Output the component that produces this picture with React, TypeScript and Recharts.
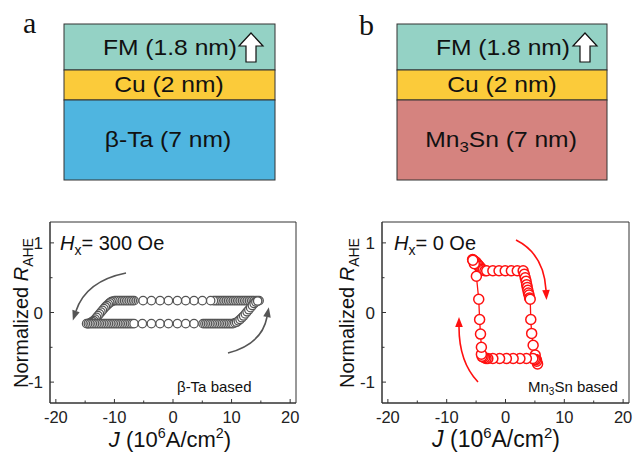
import { ScatterChart, Scatter, XAxis, YAxis, ReferenceArea } from 'recharts'

const FONT = '"Liberation Sans", Arial, sans-serif'
const SERIF = '"Liberation Serif", "Times New Roman", serif'
const AXIS = '#333'

// axis ticks shared by both panels
const xTicks = [-20, -15, -10, -5, 0, 5, 10, 15, 20]
const yTicks = [-1, -0.5, 0, 0.5, 1]

// beta-Ta panel, J (10^6 A/cm^2) vs normalized R_AHE
// sweep from +J max down to -J max (upper branch, then switching)
const taSweepDown: [number, number][] = [
    [14.7, 0.17], [14.4, 0.17], [14.1, 0.17], [13.8, 0.17], [13.5, 0.17], [13.2, 0.17],
    [12.9, 0.17], [12.6, 0.17], [12.3, 0.17], [12.0, 0.17], [11.7, 0.17], [11.4, 0.17],
    [11.1, 0.17], [10.8, 0.17], [10.5, 0.17], [10.2, 0.17], [9.9, 0.17], [9.6, 0.17],
    [9.3, 0.17], [9.0, 0.17], [8.7, 0.17], [8.4, 0.17], [8.1, 0.17], [7.8, 0.17],
    [7.5, 0.17], [7.2, 0.17], [6.9, 0.17], [6.43, 0.17], [5.01, 0.17], [3.59, 0.17],
    [2.17, 0.17], [0.75, 0.17], [-0.78, 0.17], [-2.21, 0.17], [-3.69, 0.17], [-5.11, 0.17],
    [-6.65, 0.17], [-6.95, 0.17], [-7.25, 0.17], [-7.55, 0.17], [-7.85, 0.17], [-8.15, 0.17],
    [-8.45, 0.17], [-8.75, 0.17], [-9.05, 0.17], [-9.35, 0.17], [-9.65, 0.17], [-9.95, 0.17],
    [-10.25, 0.165], [-10.55, 0.155], [-10.8, 0.14], [-11.05, 0.12], [-11.3, 0.1], [-11.55, 0.08],
    [-11.8, 0.055], [-12.05, 0.03], [-12.3, 0.005], [-12.55, -0.02], [-12.8, -0.045], [-13.05, -0.07],
    [-13.3, -0.095], [-13.55, -0.115], [-13.8, -0.13], [-14.05, -0.145], [-14.3, -0.155], [-14.55, -0.16],
    [-14.75, -0.16],
]
// sweep back from -J max to +J max (lower branch, then switching)
const taSweepUp: [number, number][] = [
    [-14.45, -0.16], [-14.15, -0.16], [-13.85, -0.16], [-13.55, -0.16], [-13.25, -0.16], [-12.95, -0.16],
    [-12.65, -0.16], [-12.35, -0.16], [-12.05, -0.16], [-11.75, -0.16], [-11.45, -0.16], [-11.15, -0.16],
    [-10.85, -0.16], [-10.55, -0.16], [-10.25, -0.16], [-9.95, -0.16], [-9.65, -0.16], [-9.35, -0.16],
    [-9.05, -0.16], [-8.75, -0.16], [-8.45, -0.16], [-8.15, -0.16], [-7.85, -0.16], [-7.55, -0.16],
    [-7.25, -0.16], [-6.95, -0.16], [-6.65, -0.16], [-5.23, -0.16], [-3.69, -0.16], [-2.21, -0.16],
    [-0.78, -0.16], [0.75, -0.16], [2.17, -0.16], [3.59, -0.16], [5.13, -0.16], [5.45, -0.16],
    [5.75, -0.16], [6.05, -0.16], [6.35, -0.16], [6.65, -0.16], [6.95, -0.16], [7.25, -0.16],
    [7.55, -0.16], [7.85, -0.16], [8.15, -0.16], [8.45, -0.16], [8.75, -0.16], [9.05, -0.16],
    [9.35, -0.16], [9.65, -0.16], [9.95, -0.16], [10.25, -0.16], [10.55, -0.15], [10.85, -0.14],
    [11.15, -0.12], [11.45, -0.1], [11.75, -0.075], [12.05, -0.05], [12.35, -0.02], [12.65, 0.01],
    [12.95, 0.04], [13.25, 0.07], [13.55, 0.1], [13.85, 0.13], [14.15, 0.15], [14.45, 0.165],
]

// Mn3Sn panel, one loop in measurement order
const mnSweepUp: [number, number][] = [
    [-5.6, 0.76], [-5.45, 0.75], [-5.3, 0.74], [-5.15, 0.73], [-5.0, 0.72], [-4.85, 0.7],
    [-4.7, 0.69], [-4.55, 0.67], [-4.4, 0.66], [-4.2, 0.64], [-4.0, 0.62], [-3.8, 0.61],
    [-3.5, 0.6], [-3.2, 0.6], [-2.15, 0.6], [-1.1, 0.6], [-0.05, 0.6], [1.0, 0.6],
    [2.0, 0.6], [3.0, 0.6], [3.2, 0.55], [3.35, 0.5], [3.5, 0.45], [3.6, 0.4],
    [3.7, 0.36], [3.8, 0.32], [3.9, 0.28], [4.0, 0.25], [4.1, 0.21], [4.2, 0.19],
    [4.3, -0.1], [4.45, -0.3], [4.7, -0.47], [5.05, -0.61], [5.25, -0.68], [5.45, -0.74],
]
const mnSweepDown: [number, number][] = [
    [5.3, -0.7], [5.1, -0.68], [4.9, -0.67], [4.65, -0.66], [3.55, -0.66], [2.45, -0.66],
    [1.3, -0.66], [0.15, -0.66], [-1.0, -0.66], [-2.15, -0.66], [-3.0, -0.66], [-3.3, -0.66],
    [-3.55, -0.65], [-3.8, -0.64], [-4.0, -0.63], [-4.1, -0.6], [-4.1, -0.5], [-4.25, -0.31],
    [-4.4, -0.1], [-4.55, 0.19], [-4.95, 0.52], [-5.3, 0.7], [-5.55, 0.75],
]

const toPoints = (rows: [number, number][]) => rows.map(([x, y]) => ({ x, y }))
const taData = toPoints([...taSweepDown, ...taSweepUp])
const mnData = toPoints([...mnSweepUp, ...mnSweepDown])

function XTick({ x, y, payload }: any) {
    const major = payload.value % 10 === 0
    return (
        <g>
            <line x1={x} x2={x} y1={y} y2={y - (major ? 4 : 2.5)} stroke={AXIS} />
            {major && (
                <text x={x} y={y + 20} textAnchor="middle" fontSize={16.5} fill="#222" fontFamily={FONT}>
                    {payload.value}
                </text>
            )}
        </g>
    )
}

function YTick({ x, y, payload }: any) {
    const major = payload.value % 1 === 0
    return (
        <g>
            <line x1={x} x2={x + (major ? 4 : 2.5)} y1={y} y2={y} stroke={AXIS} />
            {major && (
                <text x={x - 7} y={y + 6} textAnchor="end" fontSize={17} fill="#222" fontFamily={FONT}>
                    {payload.value}
                </text>
            )}
        </g>
    )
}

function LoopChart({ data, color, line, width, marginRight, r, sw }: any) {
    const dot = (p: any) => (
        <circle cx={p.cx} cy={p.cy} r={r} fill="#fff" stroke={color} strokeWidth={sw} />
    )
    return (
        <ScatterChart width={width} height={237} margin={{ top: 7, right: marginRight, bottom: 19, left: 20 }}>
            <XAxis type="number" dataKey="x" domain={[-21, 21]} ticks={xTicks} allowDataOverflow
                height={30} stroke={AXIS} tickSize={0} tickMargin={0} tickLine={false} tick={<XTick />} />
            <YAxis type="number" dataKey="y" domain={[-1.3, 1.3]} ticks={yTicks} allowDataOverflow
                width={30} stroke={AXIS} tickSize={0} tickMargin={0} tickLine={false} tick={<YTick />} />
            <ReferenceArea x1={-21} x2={21} y1={-1.3} y2={1.3} fill="none" stroke={AXIS} strokeWidth={1} />
            <Scatter data={data} shape={dot} isAnimationActive={false}
                line={line ? { stroke: color, strokeWidth: 1.3 } : false} lineType="joint" />
        </ScatterChart>
    )
}

function arrow(path: [number, number, number, number, number, number], color: string) {
    const [x0, y0, cx, cy, x1, y1] = path
    const dx = x1 - cx
    const dy = y1 - cy
    const len = Math.hypot(dx, dy)
    const ux = dx / len
    const uy = dy / len
    const tipX = x1 + ux * 10
    const tipY = y1 + uy * 10
    const pts = `${tipX},${tipY} ${x1 - uy * 3.8},${y1 + ux * 3.8} ${x1 + uy * 3.8},${y1 - ux * 3.8}`
    return (
        <g>
            <path d={`M${x0},${y0} Q${cx},${cy} ${x1},${y1}`} fill="none" stroke={color} strokeWidth={1.6} />
            <polygon points={pts} fill={color} />
        </g>
    )
}

function upArrow(cx: number) {
    return (
        <path d={`M${cx},33 L${cx + 12},46 L${cx + 5},46 L${cx + 5},62 L${cx - 5},62 L${cx - 5},46 L${cx - 12},46 Z`}
            fill="#fff" stroke="#111" strokeWidth={1.2} />
    )
}

function Stack({ x, w, bottomFill, cx, bottomText, arrowX }: any) {
    return (
        <g fontFamily={FONT} fill="#111">
            <rect x={x} y={24} width={w} height={46} fill="#94D2C5" stroke="#333" />
            <rect x={x} y={70} width={w} height={30} fill="#FBCB3A" stroke="#333" />
            <rect x={x} y={100} width={w} height={80} fill={bottomFill} stroke="#333" />
            <text transform={`translate(${cx},55) scale(1.12,1)`} textAnchor="middle" fontSize={22}>FM (1.8 nm)</text>
            <text transform={`translate(${cx - 1},92) scale(1.12,1)`} textAnchor="middle" fontSize={22}>Cu (2 nm)</text>
            <text transform={`translate(${cx - 2},147) scale(1.12,1)`} textAnchor="middle" fontSize={22}>{bottomText}</text>
            {upArrow(arrowX)}
        </g>
    )
}

function AxisTitles({ dx, xSize }: any) {
    return (
        <g fontFamily={FONT} fill="#111">
            <text transform={`translate(${28 + dx},313) rotate(-90)`} textAnchor="middle" fontSize={20}>
                Normalized <tspan fontStyle="italic">R</tspan>
                <tspan fontSize={14} dy={5}>AHE</tspan>
            </text>
            <text x={170 + dx} y={447} textAnchor="middle" fontSize={xSize}>
                <tspan fontStyle="italic">J</tspan> (10<tspan fontSize={xSize * 0.65} dy={-9}>6</tspan>
                <tspan dy={9}>A/cm</tspan><tspan fontSize={xSize * 0.65} dy={-9}>2</tspan><tspan dy={9}>)</tspan>
            </text>
        </g>
    )
}

export default function App() {
    return (
        <div style={{ position: 'absolute', left: 0, top: 0, width: 634, height: 452, background: '#fff', overflow: 'hidden' }}>
            <div style={{ position: 'absolute', left: 0, top: 215 }}>
                <LoopChart data={taData} color="#555" line={false} width={310} marginRight={14} r={4.2} sw={1.3} />
            </div>
            <div style={{ position: 'absolute', left: 332, top: 215 }}>
                <LoopChart data={mnData} color="#FF1010" line width={302} marginRight={5} r={5} sw={1.5} />
            </div>
            <svg width={634} height={452} style={{ position: 'absolute', left: 0, top: 0, pointerEvents: 'none' }}>
                <text x={23} y={33} fontFamily={SERIF} fontSize={30} fill="#111">a</text>
                <text x={359} y={35} fontFamily={SERIF} fontSize={30} fill="#111">b</text>
                <Stack x={64} w={211} bottomFill="#4FB5E0" cx={170} bottomText="β-Ta (7 nm)" arrowX={251} />
                <Stack x={397} w={210} bottomFill="#D5837F" cx={503}
                    bottomText={<>Mn<tspan fontSize={15} dy={5}>3</tspan><tspan dy={-5}>Sn (7 nm)</tspan></>} arrowX={585} />

                <AxisTitles dx={0} xSize={22} />
                <AxisTitles dx={326} xSize={23} />

                <g fontFamily={FONT} fill="#111">
                    <text x={60} y={250} fontSize={20}>
                        <tspan fontStyle="italic">H</tspan><tspan fontSize={14} dy={5}>x</tspan><tspan dy={-5}>= 300 Oe</tspan>
                    </text>
                    <text x={394} y={250} fontSize={20}>
                        <tspan fontStyle="italic">H</tspan><tspan fontSize={14} dy={5}>x</tspan><tspan dy={-5}>= 0 Oe</tspan>
                    </text>
                    <text x={177} y={392} fontSize={15}>β-Ta based</text>
                    <text x={528} y={392} fontSize={15}>
                        Mn<tspan fontSize={10} dy={3}>3</tspan><tspan dy={-3}>Sn based</tspan>
                    </text>
                </g>

                {arrow([126, 273, 86, 281, 76, 311], '#555')}
                {arrow([228, 353, 262, 344, 267, 317], '#555')}
                {arrow([516, 240, 544, 254, 546, 290], '#FF1010')}
                {arrow([478, 382, 459, 362, 459, 327], '#FF1010')}
            </svg>
        </div>
    )
}
